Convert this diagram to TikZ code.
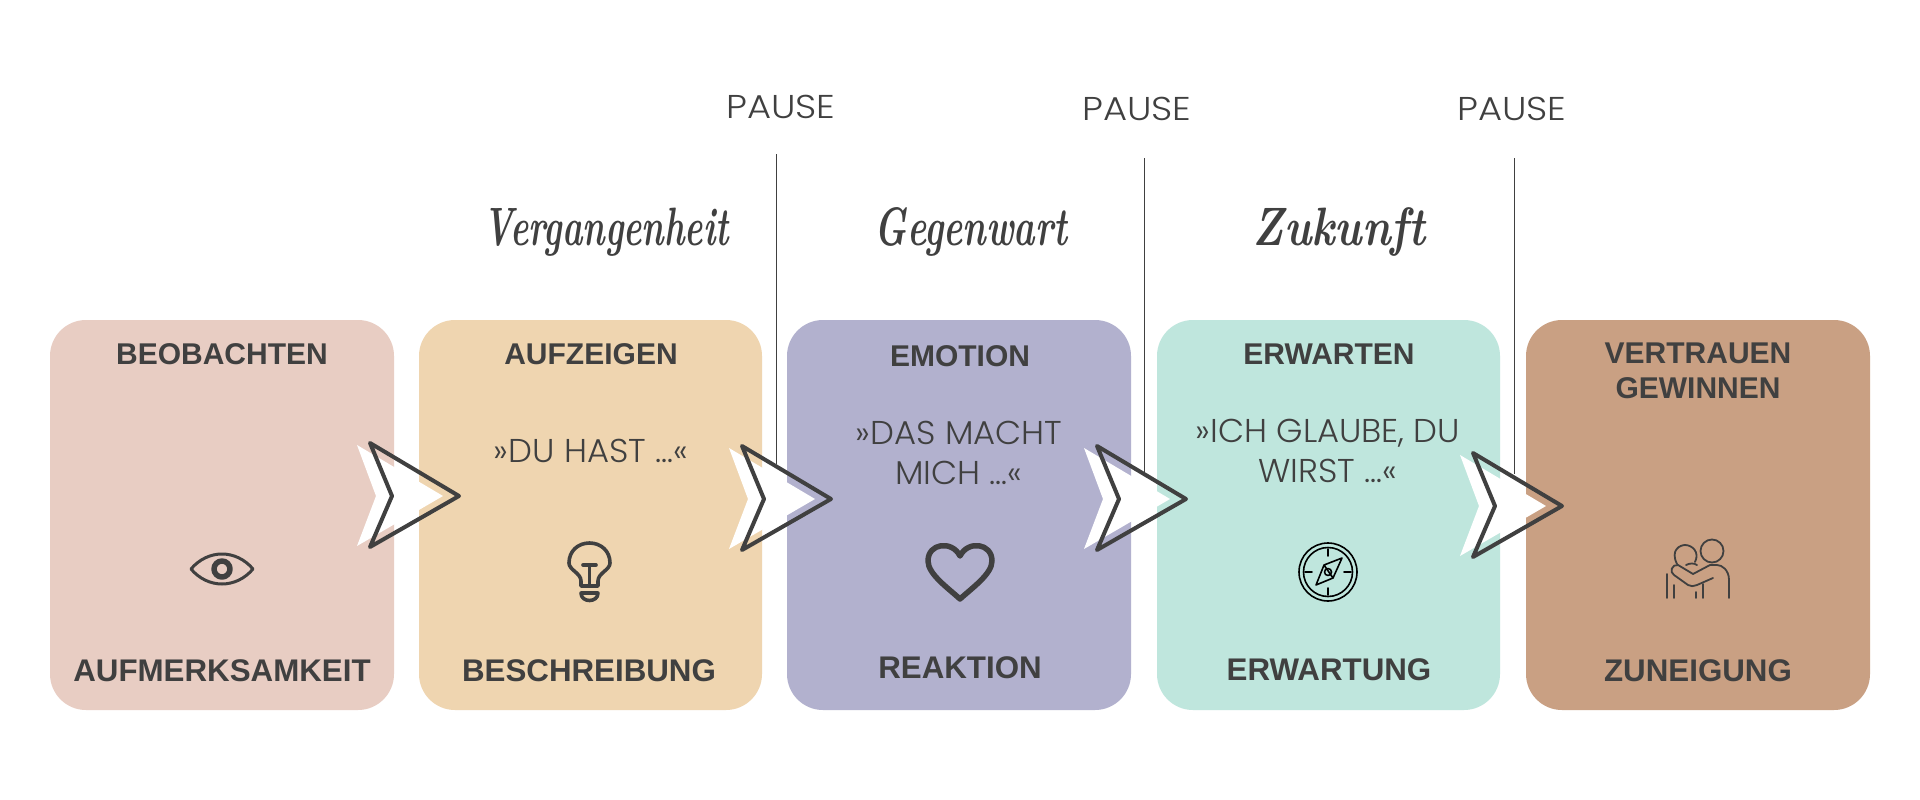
\documentclass[tikz,border=0pt]{standalone}
\usepackage{fontspec}
\setmainfont{Liberation Sans}
\newfontfamily\thinf[FakeStretch=1.025]{Poppins Light}
\newfontfamily\pausef[FakeStretch=1.12]{Poppins Light}
\newfontfamily\eraf{Latin Modern Roman}
\definecolor{ink}{HTML}{404040}
\definecolor{cA}{HTML}{E8CDC3}
\definecolor{cB}{HTML}{EFD5B0}
\definecolor{cC}{HTML}{B2B1CE}
\definecolor{cD}{HTML}{BFE6DD}
\definecolor{cE}{HTML}{C9A083}
\tikzset{x=1pt,y=-1pt,
 card/.style={fill=#1,rounded corners=36pt,draw=none},
 head/.style={font=\fontsize{30}{34.5}\selectfont\bfseries,text=ink,align=center,anchor=center},
 foot/.style={font=\fontsize{31.3}{36}\selectfont\bfseries,text=ink,align=center,anchor=center},
 body/.style={font=\thinf\fontsize{33}{40}\selectfont,text=ink,align=center,anchor=center},
 pausetxt/.style={font=\pausef\fontsize{33}{36}\selectfont,text=ink,anchor=center},
 era/.style={font=\eraf\fontsize{54}{60}\selectfont\itshape\bfseries,text=ink,anchor=center},
 pauseline/.style={draw=ink,line width=1pt},
 chevline/.style={draw=ink,line width=4pt,line join=round},
 icon/.style={draw=ink,line width=#1,line cap=round,line join=round},
}
\newcommand{\chev}[2]{%
 \fill[white] (#1-13,#2-51) -- (#1+73,#2) -- (#1-13,#2+50) -- (#1+6,#2) -- cycle;
 \draw[chevline] (#1,#2-53) -- (#1+89,#2) -- (#1,#2+51) -- (#1+22,#2) -- cycle;
}
\begin{document}
\begin{tikzpicture}
\useasboundingbox (0,0) rectangle (1920,800);
\fill[white] (0,0) rectangle (1920,800);
% cards
\path[card=cA] (50,320) rectangle (394,710);
\path[card=cB] (419,320) rectangle (762,710);
\path[card=cC] (787,320) rectangle (1131,710);
\path[card=cD] (1157,320) rectangle (1500,710);
\path[card=cE] (1526,320) rectangle (1870,710);
% pause lines
\coordinate (p1a) at (776,154); \coordinate (p1b) at (776,464);
\coordinate (p2a) at (1144,158); \coordinate (p2b) at (1144,472);
\coordinate (p3a) at (1514,158); \coordinate (p3b) at (1514,474);
\draw[pauseline] (p1a) -- (p1b);
\draw[pauseline] (p2a) -- (p2b);
\draw[pauseline] (p3a) -- (p3b);
% chevrons
\chev{370}{496}
\chev{742}{499}
\chev{1097}{499}
\chev{1473}{506}
% texts
\node[pausetxt] (t1) at (781,107) {PAUSE};
\node[pausetxt] (t2) at (1137,109) {PAUSE};
\node[pausetxt] (t3) at (1512,109) {PAUSE};
\node[era] (e1) at (606,232) {\scalebox{0.64}[1]{Vergangenheit}};
\node[era] (e2) at (971,232) {\scalebox{0.67}[1]{Gegenwart}};
\node[era] (e3) at (1339,232) {\scalebox{0.815}[1]{Zukunft}};
\node[head] (a1) at (222,354) {BEOBACHTEN};
\node[head] (a2) at (591,354) {AUFZEIGEN};
\node[head] (a3) at (960,356) {EMOTION};
\node[head] (a4) at (1329,354) {ERWARTEN};
\node[head] (a5) at (1698,371) {VERTRAUEN\\GEWINNEN};
\node[foot] (b1) at (222,671) {AUFMERKSAMKEIT};
\node[foot] (b2) at (589,671) {BESCHREIBUNG};
\node[foot] (b3) at (960,668) {REAKTION};
\node[foot] (b4) at (1329,670) {ERWARTUNG};
\node[foot] (b5) at (1698,671) {ZUNEIGUNG};
\node[body] (m2) at (591,451) {»DU HAST …«};
\node[body] (m3) at (959,453) {»DAS MACHT\\MICH …«};
\node[body] (m4) at (1328,451) {»ICH GLAUBE, DU\\WIRST …«};
% eye
\draw[icon=3pt] (191,569) .. controls (208,549) and (236,549) .. (253,569) .. controls (236,589) and (208,589) .. (191,569) -- cycle;
\draw[icon=5.5pt] (222,569) circle (8);
% bulb
\draw[icon=3.6pt] (581,586) -- (581,581) .. controls (581,573) and (569,570) .. (569,563) .. controls (569,551) and (578,543) .. (589.5,543) .. controls (601,543) and (610,551) .. (610,563) .. controls (610,570) and (598,573) .. (598,581) -- (598,586) -- cycle;
\draw[icon=3.6pt] (583,565) -- (596,565) (589.5,565) -- (589.5,586);
\draw[icon=3.6pt] (581,593) -- (598,593) .. controls (598,603) and (581,603) .. (581,593) -- cycle;
% heart
\draw[icon=5.5pt] (960,556) .. controls (952,540) and (928,543) .. (928,561) .. controls (928,574) and (948,588) .. (960,599) .. controls (972,588) and (992,574) .. (992,561) .. controls (992,543) and (968,540) .. (960,556) -- cycle;
% compass
\draw[icon=1.6pt,draw=black] (1328,572) circle (29);
\draw[icon=1.6pt,draw=black] (1328,572) circle (24.5);
\draw[icon=1.6pt,draw=black] (1328,549) -- (1328,556) (1328,588) -- (1328,595) (1305,572) -- (1312,572) (1344,572) -- (1351,572);
\draw[icon=1.6pt,draw=black] (1342,558) -- (1324,565) -- (1316,585) -- (1333,578) -- cycle (1324,565) -- (1333,578);
\draw[icon=1.6pt,draw=black] (1328,572) circle (3.5);
% people
\draw[icon=1.8pt] (1712,551) circle (11.5);
\draw[icon=1.8pt] (1677,564) .. controls (1670,550) and (1680,545) .. (1685,545) .. controls (1692,545) and (1700,552) .. (1695,562);
\draw[icon=1.8pt] (1686,565) .. controls (1690,563) and (1694,563) .. (1697,565);
\draw[icon=1.8pt] (1729,598) -- (1729,580) .. controls (1729,570) and (1722,565) .. (1717,565) -- (1710,565) -- (1693,574) -- (1678,565) .. controls (1672,564) and (1669,572) .. (1674,575) -- (1688,585) .. controls (1691,587) and (1693,586) .. (1697,585) -- (1713,578);
\draw[icon=1.8pt] (1667,598) -- (1667,574);
\draw[icon=1.8pt] (1674,598) -- (1674,585);
\draw[icon=1.8pt] (1696,598) -- (1696,592);
\draw[icon=1.8pt] (1703,598) -- (1703,584);
\end{tikzpicture}
\end{document}
